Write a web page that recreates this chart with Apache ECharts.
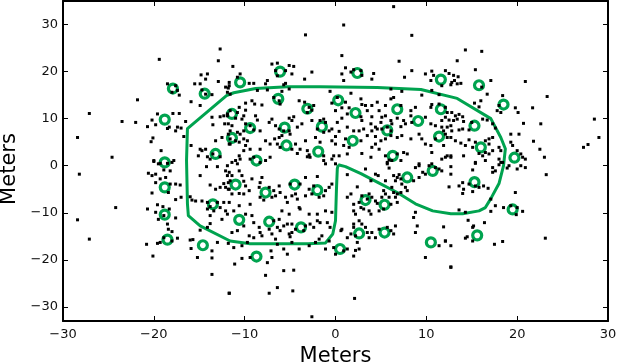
<!DOCTYPE html>
<html>
<head>
<meta charset="utf-8">
<script src="https://cdn.jsdelivr.net/npm/echarts@6/dist/echarts.min.js"></script>
<style>
  html, body { margin: 0; padding: 0; background: #fff; }
  #chart { width: 632px; height: 364px; }
</style>
</head>
<body>
<div id="chart"></div>
<script>
// axis ticks
const xTicks = [-30, -20, -10, 0, 10, 20, 30];
const yTicks = [-30, -20, -10, 0, 10, 20, 30];

// green rings (positions in meters)
const rings = [
  [-17.9, 16.4], [-14.4, 15.3], [-10.5, 17.7], [-6.1, 20.0], [2.4, 19.7], [11.6, 18.3], [15.8, 17.1], [18.5, 13.0],
  [-18.8, 9.8], [-11.4, 11.0], [-6.3, 14.2], [-9.4, 8.0], [-11.4, 5.9], [-5.6, 8.1], [-3.1, 12.1], [-1.5, 8.3],
  [0.3, 13.9], [2.2, 11.2], [5.7, 7.5], [6.8, 12.0], [9.1, 9.5], [11.6, 12.0], [15.3, 8.5], [11.4, 6.2],
  [16.0, 3.9], [19.7, 1.7], [1.9, 5.3], [-1.9, 3.0], [-5.4, 4.3], [-8.7, 1.1], [-13.2, 2.5], [-18.8, 0.7],
  [6.3, 2.1], [7.9, -2.5], [10.7, -1.1], [15.3, -3.5], [-18.8, -4.6], [-11.0, -4.0], [-7.7, -5.7], [-4.5, -4.0],
  [-2.0, -5.2], [3.3, -7.3], [5.4, -8.3], [19.5, -9.3], [-13.5, -8.2], [-18.8, -10.4], [-10.6, -11.5], [-7.3, -11.9],
  [-3.8, -13.1], [2.6, -14.4], [5.4, -14.2], [10.5, -16.3], [15.6, -14.8], [-18.5, -15.7], [-14.6, -16.9], [-8.7, -19.3],
  [0.5, -17.7]
];

// closed boundary line
const contour = [
  [0.3, 0.2], [1.1, -0.2], [2.8, -1.7], [4.7, -3.6], [6.8, -5.7], [8.8, -8.1], [10.7, -9.6], [12.7, -10.2],
  [14.0, -10.2], [15.8, -9.6], [16.5, -8.9], [17.1, -7.0], [18.0, -3.8], [18.5, 0], [18.7, 3.6], [18.2, 6.0],
  [17.1, 10.0], [13.4, 14.3], [9.4, 16.2], [4.6, 16.6], [-1.7, 16.8], [-5.3, 16.8], [-8.8, 16.4], [-11.2, 15.5],
  [-12.0, 14.9], [-16.3, 7.9], [-16.4, 1.1], [-16.3, -8.1], [-16.2, -10.6], [-14.9, -12.8], [-11.6, -16.0], [-9.4, -16.6],
  [-3.0, -16.6], [-1.1, -16.4], [-0.3, -14.5], [0, -11.7], [0.1, -5.3], [0.2, -0.6], [0.3, 0.2]
];

// black measurement dots
const dots = [
  // far outliers
  [-27.1, 11.1], [-28.4, 6.0], [-24.6, 1.8], [-28.2, -1.8], [-28.4, -11.5], [-27.1, -15.6], [-24.2, -8.9], [6.4, 33.8], [0.9, 29.9],
  // upper left
  [-12.7, 24.8], [-12.9, 22.3], [-19.4, 22.6], [-14.8, 19.3], [-14.1, 19.5], [-14.3, 18.4], [-15.5, 17.4], [-14.9, 17.4],
  [-12.9, 17.9], [-11.8, 16.5], [-11.9, 15.6], [-11.6, 15.2], [-18.5, 17.4], [-17.6, 17.0], [-18.0, 15.6], [-17.4, 16.0],
  [-17.2, 15.0], [-21.8, 14.0], [-15.9, 13.6], [-14.9, 12.8], [-13.6, 15.1], [-14.7, 16.1], [-14.3, 15.2], [-19.6, 11.0],
  [-17.9, 11.1], [-17.2, 11.1], [-20.2, 9.7], [-19.8, 8.7], [-20.7, 8.3], [-18.3, 8.2], [-18.5, 7.9], [-17.4, 8.2],
  [-17.6, 7.4], [-17.0, 8.0], [-16.5, 9.4], [-23.5, 9.4], [-22.0, 9.2], [-20.1, 5.9], [-20.3, 5.1], [-16.7, 6.2],
  [-15.9, 4.3], [-19.2, 3.2], [-20.0, 1.1], [-17.8, 1.1], [-19.3, 0.5], [-14.9, 3.5], [-14.3, 3.5], [-14.7, 3.2],
  [-15.1, 2.1], [-14.1, 1.9], [-13.8, 1.4], [-13.5, 2.5], [-12.7, 1.9], [-13.6, 10.3], [-12.7, 10.4], [-12.3, 10.6],
  [-11.9, 11.0], [-13.5, 8.7], [-12.2, 8.9], [-11.8, 8.9], [-13.2, 5.3], [-12.5, 6.0], [-11.8, 6.7], [-11.6, 5.7],
  [-11.6, 4.6],
  // upper centre-left
  [-3.3, 27.8], [-11.3, 21.1], [-7.0, 21.6], [-6.4, 21.8], [-5.1, 21.3], [-4.6, 21.1], [-6.6, 20.2], [-5.5, 20.2],
  [-4.8, 19.5], [-2.6, 19.9], [-10.5, 19.5], [-10.8, 18.8], [-11.7, 17.7], [-11.7, 17.0], [-12.1, 16.7], [-9.5, 17.5],
  [-9.0, 17.5], [-7.7, 17.4], [-7.5, 18.1], [-5.5, 17.5], [-5.7, 17.2], [-6.4, 19.1], [-8.6, 16.0], [-7.5, 16.1],
  [-5.9, 15.8], [-5.1, 16.3], [-3.4, 18.4], [-0.6, 15.8], [-9.9, 13.3], [-9.2, 13.8], [-8.9, 13.1], [-8.1, 12.9],
  [-6.8, 14.5], [-6.2, 13.8], [-6.1, 13.1], [-4.0, 13.8], [-3.4, 13.5], [-2.6, 11.8], [-3.1, 11.3], [-2.9, 12.4],
  [-2.4, 12.8], [-0.4, 13.3], [0.0, 11.7], [-10.6, 12.4], [-10.8, 11.3], [-11.6, 11.7], [-11.9, 10.6], [-9.9, 11.8],
  [-10.1, 10.6], [-10.3, 9.9], [-11.0, 10.1], [-11.4, 8.5], [-9.9, 8.9], [-9.4, 8.5], [-9.0, 7.6], [-10.1, 7.4],
  [-10.5, 6.7], [-10.8, 7.1], [-8.8, 10.6], [-8.6, 9.7], [-8.3, 7.4], [-7.3, 9.2], [-7.0, 9.9], [-6.6, 8.5],
  [-6.2, 7.8], [-5.1, 10.1], [-4.6, 10.4], [-4.8, 9.6], [-5.7, 7.4], [-5.1, 7.4], [-5.0, 6.7], [-6.2, 6.0],
  [-5.9, 6.4], [-4.2, 8.2], [-3.7, 8.9], [-2.6, 9.6], [-1.7, 9.6], [-1.3, 9.9], [-1.1, 9.2], [-0.7, 7.4],
  [-2.0, 7.8], [-1.3, 7.1], [-0.4, 7.8], [0.0, 6.2], [-2.2, 6.0], [-1.7, 5.0], [0.0, 4.6], [-0.4, 5.3],
  [-11.6, 7.4], [-11.0, 5.3], [-11.7, 4.6], [-10.6, 5.0], [-10.1, 5.7], [-9.9, 4.3], [-9.7, 5.3], [-9.4, 3.5],
  [-10.6, 2.1], [-10.5, 1.4], [-11.0, 1.1], [-10.1, 3.2], [-8.3, 3.5], [-7.7, 5.3], [-7.2, 4.6], [-6.7, 5.7],
  [-6.4, 4.6], [-6.1, 3.9], [-4.8, 3.5], [-4.4, 4.6], [-3.9, 3.5], [-3.3, 5.3], [-3.1, 3.2], [-4.2, 2.6],
  [-2.8, 1.8], [-2.9, 2.3], [-3.1, 1.9], [-1.3, 2.1], [-1.3, 1.1], [-0.2, 2.1], [-0.4, 1.4], [-11.4, 0.7],
  [-9.4, 1.4], [-9.0, 1.8], [-8.3, 0.7], [-7.7, 1.1], [-7.2, 1.8], [0.0, 0.4], [-1.1, 0.4],
  // upper centre-right
  [8.4, 27.7], [0.7, 23.4], [7.0, 22.2], [1.1, 20.8], [0.7, 19.5], [0.9, 18.1], [1.7, 19.9], [2.0, 20.4],
  [2.8, 20.2], [2.9, 19.2], [4.2, 19.6], [4.0, 18.4], [7.6, 18.8], [8.4, 20.2], [9.9, 19.5], [10.6, 20.1],
  [10.8, 19.2], [11.7, 17.0], [10.5, 18.1], [1.7, 15.4], [6.1, 16.3], [7.3, 15.8], [9.5, 15.0], [10.6, 16.0],
  [11.4, 15.1], [0.2, 14.5], [1.1, 13.5], [0.7, 12.3], [1.5, 12.3], [2.8, 14.2], [2.9, 13.0], [3.3, 12.8],
  [3.5, 11.7], [4.0, 12.8], [4.6, 13.5], [5.5, 12.8], [6.1, 14.2], [6.4, 14.5], [7.2, 12.8], [8.3, 11.7],
  [8.3, 10.6], [8.8, 12.4], [10.5, 12.4], [10.6, 13.0], [11.4, 13.1], [12.1, 12.4], [12.3, 11.3], [12.1, 10.3],
  [11.7, 9.6], [2.8, 10.4], [2.9, 9.6], [1.3, 11.0], [0.7, 10.1], [0.2, 9.2], [4.0, 10.4], [3.9, 8.9],
  [4.8, 11.7], [5.1, 10.3], [5.0, 9.2], [5.5, 10.6], [6.1, 9.6], [6.2, 8.9], [6.8, 10.1], [7.5, 9.6],
  [7.2, 8.3], [7.7, 8.9], [8.4, 9.2], [9.9, 10.3], [10.5, 8.9], [11.0, 8.5], [11.7, 8.2], [12.7, 8.5],
  [11.9, 7.4], [0.4, 7.3], [1.3, 8.2], [2.0, 7.4], [2.6, 7.4], [3.1, 7.8], [3.5, 6.4], [4.0, 7.4],
  [4.4, 6.2], [4.4, 8.2], [4.6, 7.8], [5.1, 7.8], [5.7, 8.2], [6.1, 7.4], [6.1, 6.4], [5.5, 5.7],
  [5.0, 5.3], [4.4, 4.6], [4.0, 3.9], [4.8, 3.5], [6.8, 6.0], [7.3, 6.4], [8.3, 5.7], [9.2, 6.7],
  [9.5, 5.7], [9.9, 4.6], [10.5, 4.3], [11.0, 5.7], [11.9, 4.3], [12.3, 6.0], [10.6, 2.8], [1.1, 5.7],
  [0.9, 4.3], [1.5, 3.9], [1.3, 2.5], [0.4, 2.1], [2.8, 5.3], [2.9, 2.6], [3.9, 1.8], [5.5, 2.1],
  [5.9, 1.2], [5.7, 0.7], [6.8, 2.5], [7.5, 2.8], [7.9, 2.5], [7.2, 1.1], [9.2, 0.4], [12.1, 1.8],
  [11.7, 1.4], [12.7, 2.1], [10.6, 0.4],
  // upper right
  [14.3, 24.6], [16.1, 24.3], [13.4, 22.3], [15.4, 20.4], [12.1, 20.2], [12.5, 19.6], [13.0, 19.2], [13.5, 18.9],
  [12.8, 17.7], [13.4, 17.4], [13.8, 17.5], [13.1, 18.1], [12.7, 17.2], [17.1, 18.1], [16.1, 16.7], [20.9, 17.9],
  [16.7, 15.2], [18.4, 14.9], [23.3, 14.7], [15.3, 13.3], [16.0, 13.8], [15.8, 12.5], [18.0, 12.8], [17.8, 11.7],
  [18.2, 11.3], [19.8, 12.3], [20.1, 11.3], [21.7, 12.3], [20.7, 9.0], [22.6, 8.9], [28.5, 9.9], [29.0, 6.0],
  [27.3, 3.9], [27.8, 4.5], [21.8, 5.2], [22.5, 3.5], [23.0, 1.8], [12.8, 11.3], [13.2, 10.6], [13.6, 10.9],
  [14.0, 10.4], [12.5, 9.7], [13.0, 9.6], [13.4, 9.9], [14.1, 9.4], [15.0, 9.2], [16.2, 9.9], [16.7, 9.7],
  [17.3, 8.9], [17.6, 8.0], [12.3, 8.2], [12.8, 7.4], [13.6, 7.6], [14.0, 7.8], [14.7, 7.6], [12.1, 6.7],
  [12.7, 6.0], [13.2, 5.3], [13.8, 4.8], [14.3, 4.3], [14.7, 5.5], [15.1, 3.9], [15.4, 5.0], [16.5, 5.3],
  [16.9, 5.7], [17.3, 6.0], [16.9, 4.6], [18.0, 3.9], [18.2, 3.2], [17.3, 3.2], [16.5, 2.8], [15.8, 2.6],
  [16.2, 2.1], [16.9, 2.5], [19.5, 4.3], [20.0, 3.2], [19.3, 5.0], [20.4, 2.5], [20.6, 1.8], [20.9, 1.4],
  [18.0, 1.4], [18.2, 0.7], [16.5, 1.1], [15.4, 0.7], [14.1, 2.1], [12.3, 2.1], [12.7, 1.8], [19.3, 6.7],
  [20.2, 6.7],
  // lower left
  [-20.0, 0.9], [-19.5, 0.4], [-18.5, 0.5], [-18.0, 0.7], [-18.2, -1.1], [-18.9, -0.9], [-20.6, -1.6], [-20.2, -2.1],
  [-19.8, -1.8], [-19.3, -2.8], [-19.8, -3.6], [-18.7, -2.5], [-18.2, -3.9], [-17.6, -3.9], [-17.1, -4.1], [-18.4, -5.7],
  [-20.2, -5.8], [-17.6, -7.2], [-17.0, -6.7], [-19.6, -8.3], [-19.0, -8.7], [-20.7, -9.2], [-19.8, -9.9], [-19.5, -11.4],
  [-18.9, -10.6], [-18.3, -9.2], [-17.6, -11.1], [-18.5, -12.4], [-18.4, -13.5], [-18.0, -14.0], [-17.4, -15.4], [-19.3, -16.3],
  [-19.6, -16.5], [-20.8, -16.7], [-18.0, -16.0], [-18.9, -15.3], [-20.1, -19.2], [-14.9, -2.1], [-14.2, -0.2], [-13.0, -0.2],
  [-12.1, -1.1], [-11.9, -2.1], [-13.8, -4.1], [-13.2, -5.0], [-12.7, -4.6], [-12.1, -4.6], [-11.8, -5.0], [-12.3, -3.8],
  [-11.8, -3.6], [-16.0, -6.6], [-15.8, -7.3], [-15.4, -7.5], [-14.7, -7.5], [-14.1, -7.8], [-13.8, -8.7], [-13.4, -9.6],
  [-14.1, -9.2], [-13.0, -7.8], [-12.7, -8.9], [-12.3, -7.8], [-12.1, -9.6], [-11.9, -10.3], [-12.5, -11.4], [-13.8, -10.6],
  [-13.8, -12.3], [-14.1, -13.1], [-14.9, -13.7], [-16.0, -15.8], [-15.7, -15.7], [-15.9, -17.6], [-15.2, -19.5], [-13.6, -18.1],
  [-13.6, -19.6], [-13.0, -16.3], [-11.8, -16.5], [-13.6, -23.1], [-11.7, -27.1],
  // lower centre-left
  [-11.9, 0.0], [-10.8, 0.4], [-10.6, -1.1], [-10.3, -2.1], [-11.4, -2.1], [-11.7, -1.4], [-11.6, -3.2], [-10.1, -3.3],
  [-9.9, -4.3], [-9.5, -5.3], [-10.1, -6.0], [-10.6, -5.9], [-11.4, -6.0], [-11.7, -5.0], [-9.2, -2.8], [-8.3, -3.6],
  [-8.4, -4.6], [-8.1, -2.5], [-7.3, -4.6], [-6.8, -5.3], [-6.2, -4.3], [-6.1, -5.7], [-6.6, -6.4], [-7.0, -6.7],
  [-8.3, -6.7], [-7.9, -7.3], [-5.5, -6.7], [-5.3, -7.8], [-4.8, -6.4], [-5.0, -3.9], [-3.9, -3.9], [-3.3, -2.5],
  [-2.9, -5.0], [-2.4, -4.3], [-2.0, -2.3], [-1.1, -5.3], [-0.7, -4.6], [-0.4, -3.9], [-1.3, -6.4], [-1.8, -6.7],
  [-2.6, -6.0], [-3.3, -6.4], [-4.4, -6.0], [-4.2, -7.1], [-4.0, -8.9], [-3.9, -9.2], [-5.1, -10.3], [-5.9, -9.6],
  [-6.2, -11.4], [-6.8, -11.7], [-6.4, -13.1], [-6.1, -13.8], [-5.7, -12.8], [-5.3, -12.4], [-4.8, -12.4], [-5.1, -14.5],
  [-5.0, -15.1], [-4.8, -14.2], [-4.4, -13.5], [-3.5, -13.8], [-3.3, -12.8], [-2.8, -12.4], [-2.4, -13.1], [-2.0, -11.7],
  [-1.7, -12.1], [-2.0, -10.3], [-2.9, -10.3], [-1.1, -9.6], [-0.4, -9.9], [-0.9, -12.1], [-0.6, -13.1], [-1.5, -14.9],
  [-1.8, -15.6], [-11.7, -7.8], [-10.6, -8.5], [-9.4, -8.2], [-11.2, -9.6], [-9.9, -10.3], [-9.2, -10.6], [-9.0, -12.1],
  [-10.1, -12.8], [-10.8, -13.8], [-11.4, -14.2], [-8.4, -13.1], [-8.3, -14.2], [-8.1, -14.9], [-7.3, -13.5], [-7.0, -14.5],
  [-9.5, -14.9], [-9.0, -15.3], [-9.7, -16.3], [-10.3, -17.0], [-6.6, -15.6], [-6.4, -16.7], [-5.7, -17.7], [-4.8, -16.3],
  [-4.0, -17.7], [-2.9, -17.0], [-2.2, -16.3], [-1.1, -17.7], [-0.7, -16.0], [-0.2, -17.4], [0.0, -18.8], [-11.2, -17.4],
  [-7.1, -18.1], [-7.5, -20.6], [-7.0, -19.5], [-9.4, -19.5], [-10.3, -19.7], [-11.1, -20.9], [-5.3, -18.8], [-5.7, -22.3],
  [-4.6, -22.2], [-7.7, -23.3], [-6.4, -25.9], [-7.3, -27.1], [-4.7, -26.6], [-11.7, -27.1], [-2.6, -32.1],
  // lower centre-right
  [1.3, -1.9], [3.3, -0.7], [4.4, -1.8], [4.7, -2.1], [5.7, 0.4], [5.9, -0.5], [6.2, 1.1], [6.4, -2.1],
  [6.8, -2.5], [7.0, -1.9], [6.6, -3.2], [7.2, -2.8], [5.5, -3.2], [7.3, -3.9], [8.8, -0.4], [9.2, 0.0],
  [9.6, -1.4], [9.9, -1.8], [10.3, 0.0], [11.0, -0.4], [11.4, -0.7], [11.7, -1.1], [9.2, -2.5], [8.6, -3.2],
  [7.9, -5.3], [7.7, -4.6], [7.2, -5.7], [6.8, -6.0], [6.2, -4.6], [6.4, -5.7], [2.4, -4.5], [3.9, -3.2],
  [5.3, -5.3], [5.5, -6.0], [5.9, -6.7], [6.6, -6.7], [6.8, -7.8], [6.1, -8.2], [5.1, -6.7], [4.4, -7.5],
  [4.6, -8.0], [4.0, -6.7], [3.7, -6.0], [3.5, -7.1], [2.9, -6.4], [2.6, -7.8], [2.0, -8.2], [1.7, -6.0],
  [1.3, -6.7], [2.0, -9.6], [2.2, -10.3], [2.8, -8.9], [3.1, -9.2], [3.7, -9.6], [3.9, -10.3], [4.8, -9.6],
  [5.3, -9.2], [2.6, -11.7], [2.9, -12.4], [2.0, -12.4], [2.0, -13.1], [3.3, -13.1], [3.5, -14.2], [3.7, -15.3],
  [4.0, -14.2], [4.4, -15.3], [4.8, -13.5], [5.7, -13.1], [6.1, -13.8], [6.4, -14.5], [6.6, -12.8], [2.2, -14.9],
  [1.7, -14.5], [1.3, -15.3], [0.7, -13.5], [0.6, -13.8], [2.4, -16.3], [2.6, -17.7], [2.2, -18.0], [2.0, -19.2],
  [1.3, -17.7], [0.9, -18.1], [8.8, -9.9], [8.6, -11.0], [9.0, -12.8], [8.8, -14.2], [11.9, -13.0], [9.9, -19.5],
  [12.1, -16.0], [11.4, -17.0], [12.7, -21.6], [2.1, -28.2],
  // lower right
  [12.7, -0.2], [12.7, -1.8], [15.4, 0.5], [15.1, -0.9], [17.3, -0.4], [17.6, -1.1], [17.3, -1.4], [18.0, 0.2],
  [18.4, 0.7], [18.9, -0.5], [19.1, 0.0], [20.0, -0.7], [20.4, 0.0], [20.9, -0.4], [12.5, -4.5], [13.6, -4.3],
  [14.0, -3.6], [14.1, -5.0], [14.0, -5.9], [14.7, -3.9], [15.4, -4.3], [15.8, -4.6], [16.3, -4.3], [16.8, -4.8],
  [15.1, -5.5], [19.8, -5.7], [17.1, -7.1], [17.6, -8.5], [17.1, -9.7], [18.5, -8.9], [19.3, -8.5], [20.0, -8.9],
  [20.6, -9.7], [19.9, -10.4], [13.6, -9.4], [14.3, -9.9], [14.6, -11.6], [15.2, -12.8], [15.1, -13.1], [16.4, -12.1],
  [14.5, -15.1], [14.3, -15.4], [15.1, -16.0], [17.5, -16.7], [18.4, -16.1], [12.1, -16.0], [12.7, -17.0], [23.1, -15.4],
  [23.2, -1.9], [12.7, -21.5]
];

const green = '#00a34f';
const font = 'DejaVu Sans';
const fmt = function (v) { return v < 0 ? '\u2212' + (-v) : String(v); };

const chart = echarts.init(document.getElementById('chart'));

const axisLineStyle = { show: true, onZero: false, lineStyle: { color: '#000', width: 2 } };
const tickStyle = { show: true, inside: true, length: 5, lineStyle: { color: '#000', width: 1 } };

const option = {
  animation: false,
  backgroundColor: '#fff',
  grid: { left: 63, right: 24, top: 1, bottom: 43, outerBoundsMode: 'none', containLabel: false },
  xAxis: [
    {
      type: 'value', min: -30, max: 30, interval: 10, position: 'bottom',
      name: 'Meters', nameLocation: 'middle', nameGap: 23,
      nameTextStyle: { fontSize: 21, color: '#000', fontFamily: font },
      axisLine: axisLineStyle, axisTick: tickStyle,
      axisLabel: { formatter: fmt, fontSize: 13, color: '#111', margin: 7, fontFamily: font },
      splitLine: { show: false }
    },
    {
      type: 'value', min: -30, max: 30, interval: 10, position: 'top',
      axisLine: axisLineStyle, axisTick: tickStyle,
      axisLabel: { show: false }, splitLine: { show: false }
    }
  ],
  yAxis: [
    {
      type: 'value', min: -33, max: 35, position: 'left',
      name: 'Meters', nameLocation: 'middle', nameGap: 23,
      nameTextStyle: { fontSize: 21, color: '#000', fontFamily: font, padding: [0, 16, 0, 0] },
      axisLine: axisLineStyle,
      axisTick: Object.assign({}, tickStyle, { customValues: yTicks }),
      axisLabel: { customValues: yTicks, formatter: fmt, fontSize: 13, color: '#111', margin: 5, fontFamily: font },
      splitLine: { show: false }
    },
    {
      type: 'value', min: -33, max: 35, position: 'right',
      axisLine: axisLineStyle,
      axisTick: Object.assign({}, tickStyle, { customValues: yTicks }),
      axisLabel: { show: false }, splitLine: { show: false }
    }
  ],
  series: [
    {
      type: 'line', xAxisIndex: 0, yAxisIndex: 0, data: contour,
      showSymbol: false, smooth: false, silent: true,
      lineStyle: { color: green, width: 3, join: 'round' }, z: 2
    },
    {
      type: 'scatter', xAxisIndex: 0, yAxisIndex: 0, data: rings,
      symbol: 'circle', symbolSize: 9, silent: true,
      itemStyle: { color: 'rgba(0,0,0,0)', borderColor: green, borderWidth: 3.2, opacity: 1 }, z: 3
    },
    {
      type: 'scatter', xAxisIndex: 0, yAxisIndex: 0, data: dots,
      symbol: 'rect', symbolSize: 3, silent: true,
      itemStyle: { color: '#000', opacity: 1 }, z: 4
    }
  ]
};
chart.setOption(option);
</script>
</body>
</html>
